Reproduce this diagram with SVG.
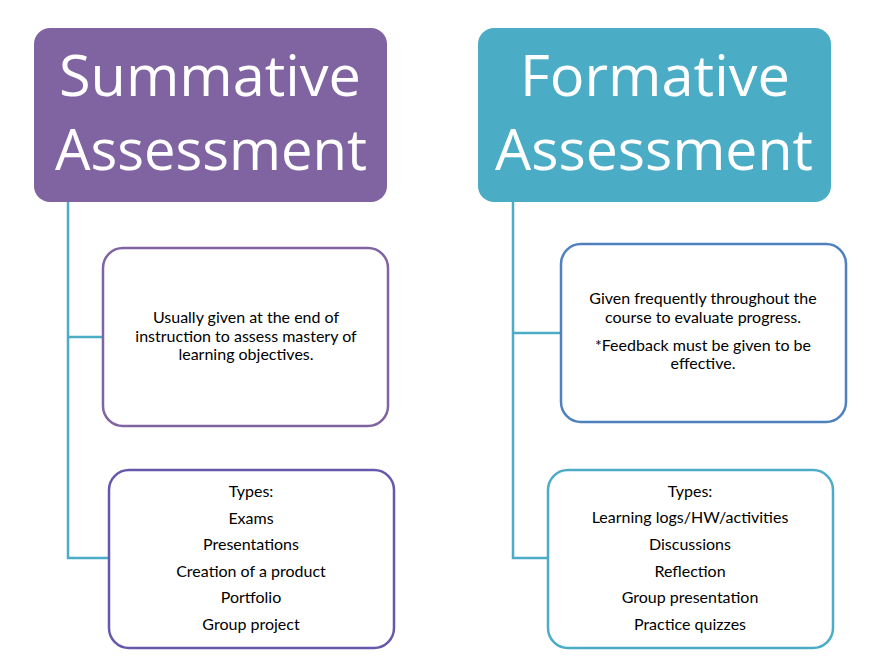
<svg xmlns="http://www.w3.org/2000/svg" width="876" height="670" viewBox="0 0 876 670">
<style>
.title{font-family:"Open Sans","Liberation Sans",sans-serif;font-size:57px;fill:#ffffff;text-anchor:middle}
.body{font-family:Lato,"Open Sans",sans-serif;font-size:16px;fill:#000000;text-anchor:middle}
.conn{fill:none;stroke:#4BACC6;stroke-width:2.5}
.card{fill:#ffffff;stroke-width:2.5}
</style>
<rect width="876" height="670" fill="#ffffff"/>
<g id="connectors">
<path class="conn" d="M68,202 V558 H109 M68,337 H104"/>
<path class="conn" d="M513,202 V558 H548 M513,333 H561"/>
</g>
<g id="summative">
<rect x="34" y="28" width="353" height="174" rx="16" fill="#8064A2"/>
<text class="title" x="210" y="96" textLength="302" lengthAdjust="spacingAndGlyphs">Summative</text>
<text class="title" x="211" y="170" textLength="312" lengthAdjust="spacingAndGlyphs">Assessment</text>
</g>
<g id="formative">
<rect x="478" y="28" width="353" height="174" rx="16" fill="#4BACC6"/>
<text class="title" x="655" y="96" textLength="270" lengthAdjust="spacingAndGlyphs">Formative</text>
<text class="title" x="654" y="170" textLength="318" lengthAdjust="spacingAndGlyphs">Assessment</text>
</g>
<g id="summative-desc">
<rect class="card" x="103" y="248" width="285" height="178" rx="20" stroke="#8064A2"/>
<text class="body" x="246" y="323">Usually given at the end of</text>
<text class="body" x="246" y="342">instruction to assess mastery of</text>
<text class="body" x="246" y="360">learning objectives.</text>
</g>
<g id="summative-types">
<rect class="card" x="109" y="470" width="285" height="178" rx="20" stroke="#6659AB"/>
<text class="body" x="251" y="497">Types:</text>
<text class="body" x="251" y="524">Exams</text>
<text class="body" x="251" y="550">Presentations</text>
<text class="body" x="251" y="577">Creation of a product</text>
<text class="body" x="251" y="603">Portfolio</text>
<text class="body" x="251" y="630">Group project</text>
</g>
<g id="formative-desc">
<rect class="card" x="561" y="244" width="285" height="178" rx="20" stroke="#4F81BD"/>
<text class="body" x="703" y="304">Given frequently throughout the</text>
<text class="body" x="703" y="323">course to evaluate progress.</text>
<text class="body" x="703" y="351">*Feedback must be given to be</text>
<text class="body" x="703" y="369">effective.</text>
</g>
<g id="formative-types">
<rect class="card" x="548" y="470" width="285" height="178" rx="20" stroke="#4BACC6"/>
<text class="body" x="690" y="497">Types:</text>
<text class="body" x="690" y="523">Learning logs/HW/activities</text>
<text class="body" x="690" y="550">Discussions</text>
<text class="body" x="690" y="577">Reflection</text>
<text class="body" x="690" y="603">Group presentation</text>
<text class="body" x="690" y="630">Practice quizzes</text>
</g>
</svg>
